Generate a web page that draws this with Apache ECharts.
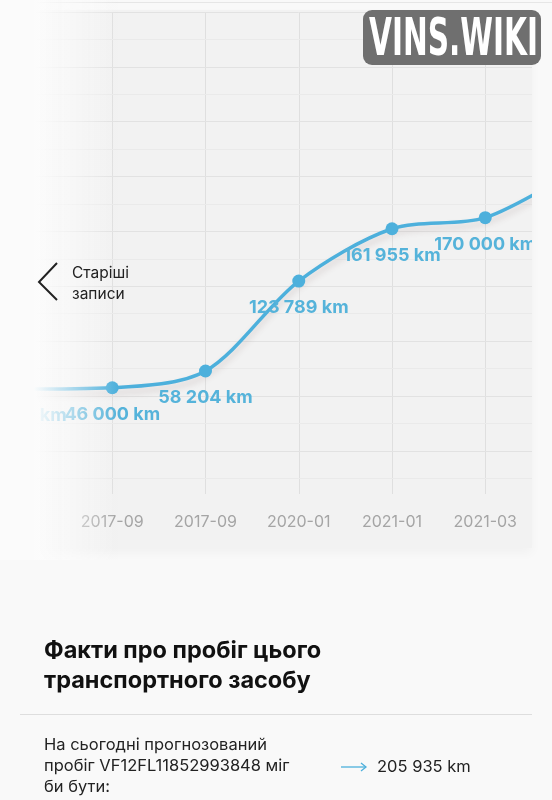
<!DOCTYPE html>
<html><head><meta charset="utf-8">
<script src="https://cdn.jsdelivr.net/npm/echarts@6/dist/echarts.min.js"></script>
<style>
html,body{margin:0;padding:0;width:552px;height:800px;background:#f9f9f9;overflow:hidden;font-family:Inter,'Noto Sans',sans-serif;}
#topline{position:absolute;left:0;top:2px;width:552px;height:1px;background:#e6e6e6;}
#card{position:absolute;left:14px;top:10px;width:518px;height:538px;background:#f2f2f2;box-shadow:0 5px 10px rgba(0,0,0,0.035);}
#clip{position:absolute;left:0;top:0;width:532px;height:560px;overflow:hidden;}
#chart{position:absolute;left:0;top:0;width:600px;height:560px;}
#fade{position:absolute;left:0;top:0;width:125px;height:560px;background:linear-gradient(to right, rgba(251,251,251,1) 0px, rgba(251,251,251,1) 34px, rgba(251,251,251,0) 118px);}
#chev{position:absolute;left:0;top:0;}
#older{position:absolute;left:72px;top:262px;font-size:15.5px;line-height:21px;color:#222;}
#badge{position:absolute;left:363px;top:10px;width:178px;height:55px;background:#6f6f6f;border-radius:9px;overflow:hidden;}
#badge span{position:absolute;left:6px;top:0;line-height:55px;font-family:'Liberation Sans Narrow','DejaVu Sans Condensed','Liberation Sans',sans-serif;font-weight:bold;font-size:51px;color:#fff;white-space:nowrap;transform-origin:0 50%;}
#title{position:absolute;left:44px;top:635px;font-size:23.5px;line-height:30px;font-weight:700;color:#111;}
#divider{position:absolute;left:20px;top:714px;width:512px;height:1px;background:#dedede;}
#body{position:absolute;left:44px;top:734px;font-size:16.5px;line-height:21px;color:#222;}
#arrow{position:absolute;left:0;top:0;}
#value{position:absolute;left:377px;top:756px;font-size:16.5px;line-height:21px;color:#222;}
</style></head>
<body>
<div id="topline"></div>
<div id="card"></div>
<div id="clip"><div id="chart"></div></div>
<div id="fade"></div>
<svg id="chev" width="552" height="800"><polyline points="57,263 39,282 57,300" fill="none" stroke="#222" stroke-width="2"/></svg>
<div id="older">Старіші<br>записи</div>
<div id="badge"><span id="btxt">VINS.WIKI</span></div>
<div id="title">Факти про пробіг цього<br>транспортного засобу</div>
<div id="divider"></div>
<div id="body">На сьогодні прогнозований<br>пробіг VF12FL11852993848 міг<br>би бути:</div>
<svg id="arrow" width="552" height="800"><line x1="341" y1="767" x2="366" y2="767" stroke="#4db0dc" stroke-width="1.3"/><polyline points="361,763 366,767 361,771" fill="none" stroke="#4db0dc" stroke-width="1.3"/></svg>
<div id="value">205 935 km</div>
<script>
// Data
const categories = ['', '2017-09', '2017-09', '2020-01', '2021-01', '2021-03', ''];
const mileage = [45000, 46000, 58204, 123789, 161955, 170000, 205935];
const gridValues = [-20000, 0, 20000, 40000, 60000, 80000, 100000, 120000, 140000, 160000, 180000, 200000, 220000, 240000, 260000, 280000, 300000, 320000];
const majorStep = 40000;

// badge text fit
(function(){
  const s = document.getElementById('btxt');
  const w = s.getBoundingClientRect().width;
  s.style.transform = 'scaleX(' + (169 / w) + ')';
})();

function fmt(v){ return String(v).replace(/\B(?=(\d{3})+(?!\d))/g, ' ') + ' km'; }

const lastIdx = mileage.length - 1;
const lineData = mileage.map((v, i) => i === lastIdx ? {value: v, label: {show: false}} : v);

const chart = echarts.init(document.getElementById('chart'), null, {renderer:'canvas'});
chart.setOption({
  animation: false,
  textStyle: {fontFamily: 'Inter'},
  grid: {left: 19, right: 21.5, top: 12, bottom: 66},
  xAxis: {
    type: 'category', boundaryGap: false, data: categories,
    axisLine: {lineStyle: {color: '#dadada', width: 1}},
    axisTick: {show: false},
    axisLabel: {interval: 0, color: '#a5a5a5', fontSize: 16, margin: 20, fontFamily: 'Inter'},
    splitLine: {show: true, lineStyle: {color: '#dfdfdf', width: 1}}
  },
  yAxis: {
    type: 'value', min: -31500, max: 320000,
    axisLine: {show: false}, axisTick: {show: false}, axisLabel: {show: false},
    splitLine: {show: false}
  },
  series: [
    {
      type: 'line', data: mileage, symbol: 'none', silent: true, z: 1,
      lineStyle: {opacity: 0},
      markLine: {
        silent: true, symbol: ['none','none'], label: {show: false}, animation: false,
        data: gridValues.map(v => ({yAxis: v, lineStyle: {type: 'solid', width: 1, color: (v % majorStep === 0) ? '#e2e2e2' : '#eaeaea'}}))
      }
    },
    {
      type: 'line', data: lineData, smooth: 0.3, z: 5,
      symbol: 'circle', symbolSize: 13,
      itemStyle: {color: '#4db0dc'},
      lineStyle: {color: '#4db0dc', width: 3.5, shadowColor: 'rgba(110,80,80,0.18)', shadowBlur: 6, shadowOffsetY: 5},
      label: {show: true, position: 'bottom', distance: 11, color: '#55b3da', fontSize: 18, fontWeight: 'bold', fontFamily: 'Inter', formatter: p => fmt(p.value)}
    }
  ]
});
</script>
</body></html>
